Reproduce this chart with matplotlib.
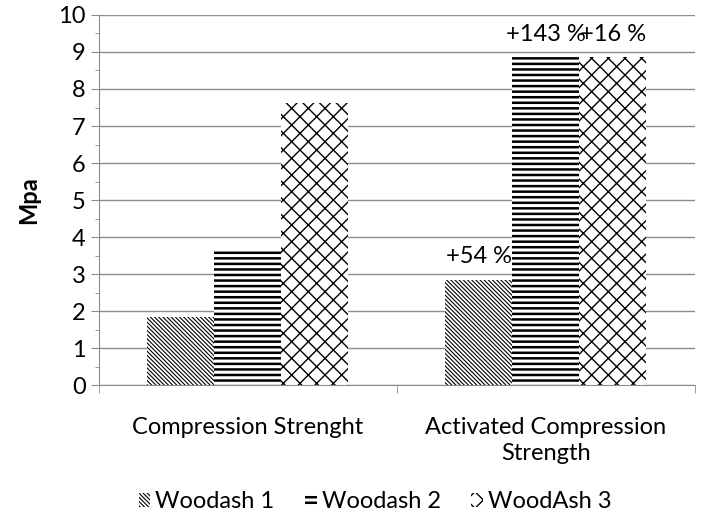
import numpy as np
import matplotlib.pyplot as plt

plt.rcParams['font.family'] = ['Lato', 'DejaVu Sans']
plt.rcParams['hatch.linewidth'] = 1.0

categories = ["Compression Strenght", "Activated Compression\nStrength"]
series = ["Woodash 1", "Woodash 2", "WoodAsh 3"]
woodash1 = [1.85, 2.84]
woodash2 = [3.65, 8.86]
woodash3 = [7.62, 8.86]
labels = [["", "+54 %"], ["", "+143 %"], ["", "+16 %"]]

hatches = ['\\' * 8, '---', 'xx']
hatch_lw = [0.8, 1.8, 1.0]
values = [woodash1, woodash2, woodash3]

fs = 17

fig = plt.figure(figsize=(7.01, 5.26), dpi=100)
ax = fig.add_axes([0.1412, 0.268, 0.850, 0.7035])

x = np.arange(len(categories))
w = 0.225
for i, (vals, h) in enumerate(zip(values, hatches)):
    bars = ax.bar(x + (i - 1) * w, vals, w, color='white', edgecolor='black',
                  linewidth=0, hatch=h, label=series[i], zorder=2)
    for b, lab in zip(bars, labels[i]):
        if hasattr(b, 'set_hatch_linewidth'):
            b.set_hatch_linewidth(hatch_lw[i])
        if lab:
            ax.annotate(lab, (b.get_x() + b.get_width() / 2, b.get_height()),
                        xytext=(0, 9), textcoords='offset points',
                        ha='center', va='bottom', fontsize=fs)

ax.set_ylim(0, 10)
ax.set_xlim(-0.5, 1.5)
ax.set_yticks(range(0, 11))
ax.set_yticks(np.arange(0.5, 10, 1), minor=True)
ax.yaxis.grid(True, color='#8c8c8c', linewidth=1, zorder=0)
ax.set_axisbelow(True)

ax.set_xticks(x)
ax.set_xticklabels(categories, fontsize=fs, linespacing=1.3)
ax.set_xticks([-0.5, 0.5, 1.5], minor=True)
ax.tick_params(axis='x', which='major', length=0, pad=23)
ax.tick_params(axis='x', which='minor', length=6, color='#8c8c8c')
ax.tick_params(axis='y', which='major', length=6, color='#8c8c8c', labelsize=fs)
ax.tick_params(axis='y', which='minor', length=3, color='#8c8c8c')

for s in ['top', 'right']:
    ax.spines[s].set_visible(False)
for s in ['left', 'bottom']:
    ax.spines[s].set_color('#8c8c8c')

ax.set_ylabel("Mpa", fontsize=fs, fontweight='bold', labelpad=13)

leg = fig.legend(loc='center', bbox_to_anchor=(0.535, 0.046), ncol=3, frameon=False,
                 fontsize=fs, handlelength=0.5, handleheight=0.5, handletextpad=0.2,
                 columnspacing=1.3)
for p, lw in zip(leg.get_patches(), hatch_lw):
    if hasattr(p, 'set_hatch_linewidth'):
        p.set_hatch_linewidth(lw)

fig.savefig("out.png", dpi=100)
